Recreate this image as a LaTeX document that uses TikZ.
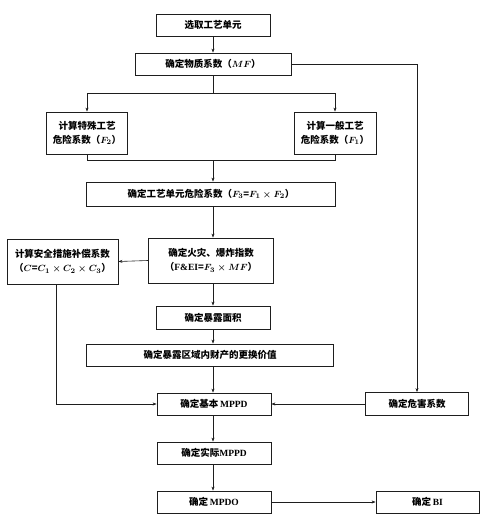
\documentclass[tikz,border=0pt]{standalone}
\usepackage[no-math]{fontspec}
\setmainfont{Noto Sans CJK SC}
\newfontfamily\latinfont{Liberation Serif}
\usetikzlibrary{arrows.meta,positioning,calc}
\definecolor{boxline}{HTML}{1E1E1E}
\newcommand\lat[1]{{\latinfont #1}}

\begin{document}
\begin{tikzpicture}[x=1pt,y=-1pt,
  box/.style={draw=boxline,line width=0.8pt,align=center,inner sep=1pt,minimum height=22pt,
    font=\fontsize{9.5}{14}\selectfont\bfseries\boldmath},
  unit/.style={box,minimum width=114pt},
  arrow/.style={-{Stealth[length=4pt,width=3pt]},line width=0.6pt,draw=boxline},
  link/.style={line width=0.6pt,draw=boxline}
]
\useasboundingbox (0,0) rectangle (489,525);
\node[unit] (select) at (213,25) {选取工艺单元};
\node[box,minimum width=156pt] (mf) at (213,64) {确定物质系数（$MF$）};
\node[box,minimum width=81pt,minimum height=42pt] (ftwo) at (87,133) {计算特殊工艺\\危险系数（$F_2$）};
\node[box,minimum width=82pt,minimum height=42pt] (fone) at (335,133) {计算一般工艺\\危险系数（$F_1$）};
\node[box,minimum width=249pt,minimum height=24pt] (fthree) at (211,194) {确定工艺单元危险系数（$F_3$=$F_1\times F_2$）};
\node[box,minimum width=125pt,minimum height=45pt] (fei) at (211,260.5) {确定火灾、爆炸指数\\（\lat{F\&EI}=$F_3\times MF$）};
\node[box,minimum width=111pt,minimum height=45pt] (comp) at (62.5,261.5) {计算安全措施补偿系数\\（$C$=$C_1\times C_2\times C_3$）};
\node[unit,minimum height=23pt] (area) at (213,317.5) {确定暴露面积};
\node[box,minimum width=247pt] (value) at (210,355) {确定暴露区域内财产的更换价值};
\node[unit] (basic) at (214,404) {确定基本\,\lat{MPPD}};
\node[box,minimum width=103pt,minimum height=23pt] (hazard) at (417,404) {确定危害系数};
\node[unit] (actual) at (214,453) {确定实际\lat{MPPD}};
\node[unit] (mpdo) at (214,502) {确定\,\lat{MPDO}};
\node[box,minimum width=103pt] (bi) at (427.5,502) {确定\,\lat{BI}};
% branch and merge points
\coordinate (split) at (mf.south |- 0,93);
\coordinate (merge) at (mf.south |- 0,160);
\draw[arrow] (select) -- (mf);
\draw[link] (mf.south) -- (split);
\draw[arrow] (split) -| (ftwo.north);
\draw[arrow] (split) -| (fone.north);
\draw[link] (ftwo.south) |- (merge);
\draw[link] (fone.south) |- (merge);
\draw[arrow] (merge) -- (fthree.north -| merge);
\draw[arrow] (fthree.south -| merge) -- (fei.north -| merge);
\draw[arrow] (fei.west) -- (comp.east);
\draw[arrow] (fei.south -| merge) -- (area.north -| merge);
\draw[arrow] (area.south -| merge) -- (value.north -| merge);
\draw[arrow] (value.south -| merge) -- (basic.north -| merge);
\draw[arrow] (mf.east) -| (hazard.north);
\draw[arrow] ([xshift=-6pt]comp.south) |- (basic.west);
\draw[arrow] (hazard.west) -- (basic.east);
\draw[arrow] (basic.south -| merge) -- (actual.north -| merge);
\draw[arrow] (actual.south -| merge) -- (mpdo.north -| merge);
\draw[arrow] (mpdo.east) -- (bi.west);
\end{tikzpicture}
\end{document}
